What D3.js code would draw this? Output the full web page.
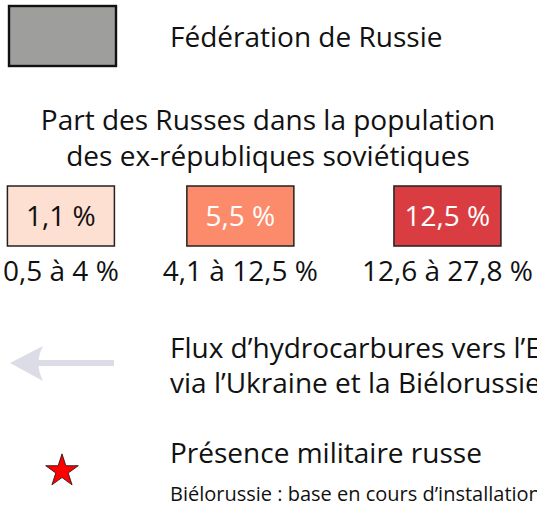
<!DOCTYPE html>
<html>
<head>
<meta charset="utf-8">
<script src="https://cdn.jsdelivr.net/npm/d3@7"></script>
<style>
  html, body { margin: 0; padding: 0; background: #fff; }
  svg { display: block; font-family: 'Open Sans', 'Noto Sans', sans-serif; }
</style>
</head>
<body>
<div id="legend"></div>
<script>
// legend data
const russiaLabel = 'Fédération de Russie';
const shareTitle = ['Part des Russes dans la population', 'des ex-républiques soviétiques'];
const shareClasses = ['0,5 à 4 %', '4,1 à 12,5 %', '12,6 à 27,8 %'];
const shareSamples = ['1,1 %', '5,5 %', '12,5 %'];
const flowLabel = ['Flux d\u2019hydrocarbures vers l\u2019Europe', 'via l\u2019Ukraine et la Biélorussie'];
const militaryLabel = 'Présence militaire russe';
const militaryNote = 'Biélorussie : base en cours d\u2019installation';

const WIDTH = 537;
const HEIGHT = 507;
const BOX_W = 107;
const BOX_H = 60;
const TEXT_X = 170;
const FONT = 28;

const svg = d3
  .select('#legend')
  .append('svg')
  .attr('width', WIDTH)
  .attr('height', HEIGHT);

const colorScale = d3
  .scaleOrdinal()
  .domain(shareClasses)
  .range(['#fde0d2', '#fb8b6b', '#da3d41']);
const textColor = d3
  .scaleOrdinal()
  .domain(shareClasses)
  .range(['#111', '#fff', '#fff']);

// russia
svg
  .append('rect')
  .attr('x', 9)
  .attr('y', 6)
  .attr('width', BOX_W)
  .attr('height', BOX_H)
  .attr('fill', '#9e9e9d')
  .attr('stroke', '#111')
  .attr('stroke-width', 2.4);
svg
  .append('text')
  .attr('x', TEXT_X)
  .attr('y', 47)
  .attr('font-size', FONT)
  .attr('fill', '#111')
  .text(russiaLabel);

// title
svg
  .append('text')
  .attr('text-anchor', 'middle')
  .attr('font-size', FONT)
  .attr('fill', '#111')
  .selectAll('tspan')
  .data(shareTitle)
  .join('tspan')
  .attr('x', 268)
  .attr('y', (d, i) => 130 + i * 36)
  .text((d) => d);

// classes: labels laid out one after the other
const classLabels = svg
  .append('g')
  .selectAll('text')
  .data(shareClasses)
  .join('text')
  .attr('font-size', FONT)
  .attr('fill', '#111')
  .attr('text-anchor', 'middle')
  .attr('y', 281)
  .text((d) => d);

const widths = classLabels.nodes().map((n) => n.getComputedTextLength());
const gap = 44;
let cursor = 3;
const centers = widths.map((w) => {
  const c = cursor + w / 2;
  cursor += w + gap;
  return c;
});
const xCenter = d3.scaleOrdinal().domain(shareClasses).range(centers);
classLabels.attr('x', (d) => xCenter(d));

const boxes = svg
  .append('g')
  .selectAll('g')
  .data(shareClasses)
  .join('g')
  .attr('transform', (d) => `translate(${xCenter(d) - BOX_W / 2},186)`);
boxes
  .append('rect')
  .attr('width', BOX_W)
  .attr('height', BOX_H)
  .attr('fill', (d) => colorScale(d))
  .attr('stroke', '#222')
  .attr('stroke-width', 1.5);
boxes
  .append('text')
  .attr('x', BOX_W / 2)
  .attr('y', BOX_H / 2 + 10)
  .attr('text-anchor', 'middle')
  .attr('font-size', FONT)
  .attr('fill', (d) => textColor(d))
  .text((d, i) => shareSamples[i]);

// flow arrow
const arrowY = 363;
svg
  .append('line')
  .attr('x1', 30)
  .attr('x2', 114)
  .attr('y1', arrowY)
  .attr('y2', arrowY)
  .attr('stroke', '#dcdce6')
  .attr('stroke-width', 6);
svg
  .append('path')
  .attr(
    'd',
    `M10,${arrowY} L43,${arrowY - 17} Q34,${arrowY} 43,${arrowY + 18} Z`
  )
  .attr('fill', '#dcdce6');
svg
  .append('text')
  .attr('font-size', FONT)
  .attr('fill', '#111')
  .selectAll('tspan')
  .data(flowLabel)
  .join('tspan')
  .attr('x', TEXT_X)
  .attr('y', (d, i) => 358 + i * 35)
  .text((d) => d);

// military star
svg
  .append('path')
  .attr('d', d3.symbol(d3.symbolStar, 330)())
  .attr('transform', 'translate(62,471)')
  .attr('fill', '#ff0000')
  .attr('stroke', '#111')
  .attr('stroke-width', 0.8);
svg
  .append('text')
  .attr('x', TEXT_X)
  .attr('y', 463)
  .attr('font-size', FONT)
  .attr('fill', '#111')
  .text(militaryLabel);
svg
  .append('text')
  .attr('x', TEXT_X)
  .attr('y', 501)
  .attr('font-size', 20)
  .attr('fill', '#111')
  .text(militaryNote);
</script>
</body>
</html>
